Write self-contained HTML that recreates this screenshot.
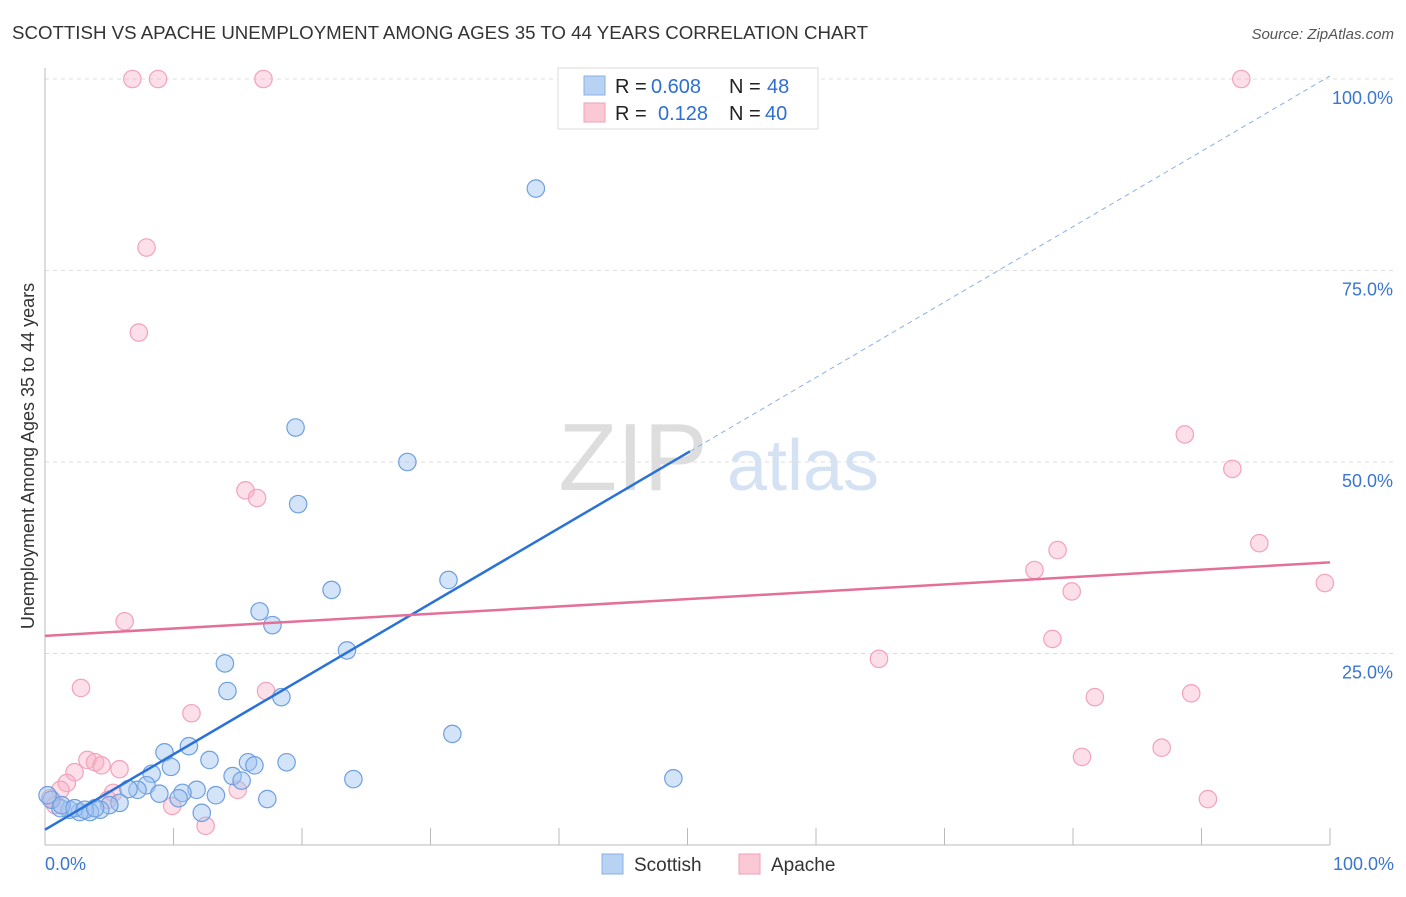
<!DOCTYPE html>
<html><head><meta charset="utf-8"><style>
body{margin:0;background:#fff;font-family:"Liberation Sans",sans-serif;}
svg text{font-family:"Liberation Sans",sans-serif;}
</style></head><body>
<svg id="chart" width="1406" height="892" xmlns="http://www.w3.org/2000/svg">
<text x="12" y="39" font-size="18" fill="#333" textLength="856" lengthAdjust="spacingAndGlyphs">SCOTTISH VS APACHE UNEMPLOYMENT AMONG AGES 35 TO 44 YEARS CORRELATION CHART</text>
<text x="1394" y="39" font-size="15" fill="#555" text-anchor="end" font-style="italic">Source: ZipAtlas.com</text>
<text transform="translate(34,456) rotate(-90)" font-size="18" fill="#333" text-anchor="middle">Unemployment Among Ages 35 to 44 years</text>
<g>
<text x="633" y="490" font-size="96" fill="#ddd" text-anchor="middle" font-family="Liberation Serif,serif">ZIP</text>
<text x="803" y="490" font-size="72" fill="#d4e2f4" text-anchor="middle">atlas</text>
</g>
<g id="grid"></g>
<g id="axes"></g>
<g id="pts"></g>
<g id="lines"></g>
<g>
<rect x="558" y="68" width="260" height="61" fill="#fff" stroke="#ddd"/>
<rect x="584" y="76" width="21" height="19" fill="#b8d2f4" stroke="#8ab0e6"/>
<text x="615" y="93" font-size="20" fill="#222">R = </text><text x="651" y="93" font-size="20" fill="#2f6fd0">0.608</text>
<text x="729" y="93" font-size="20" fill="#222">N = </text><text x="767" y="93" font-size="20" fill="#2f6fd0">48</text>
<rect x="584" y="103" width="21" height="19" fill="#fbc8d6" stroke="#f0a0b8"/>
<text x="615" y="120" font-size="20" fill="#222">R = </text><text x="658" y="120" font-size="20" fill="#2f6fd0">0.128</text>
<text x="729" y="120" font-size="20" fill="#222">N = </text><text x="765" y="120" font-size="20" fill="#2f6fd0">40</text>
</g>
<g>
<rect x="602" y="854" width="21" height="20" fill="#b8d2f4" stroke="#8ab0e6"/>
<text x="634" y="871" font-size="19" fill="#333">Scottish</text>
<rect x="739" y="854" width="21" height="20" fill="#fbc8d6" stroke="#f0a0b8"/>
<text x="771" y="871" font-size="19" fill="#333">Apache</text>
</g>
</svg>
<script>
const scotX=[38.2,19.5,28.2,19.7,31.4,22.3,16.7,17.7,23.5,14.0,14.2,18.4,31.7,9.3,11.2,12.8,9.8,15.8,16.3,18.8,8.3,14.6,15.3,24.0,48.9,7.9,7.2,6.5,8.9,11.8,10.7,13.3,10.4,17.3,5.8,12.2,5.0,4.3,3.5,2.7,1.9,1.2,0.5,1.3,2.3,3.1,3.9,0.2];
const scotY=[85.7,54.5,50.0,44.5,34.6,33.3,30.5,28.7,25.4,23.7,20.1,19.3,14.5,12.1,12.9,11.1,10.2,10.8,10.4,10.8,9.3,9.0,8.4,8.6,8.7,7.8,7.2,7.3,6.7,7.2,6.8,6.5,6.1,6.0,5.5,4.2,5.2,4.6,4.3,4.3,4.6,4.8,5.9,5.2,4.8,4.6,4.8,6.5];
const apX=[6.8,8.8,17.0,93.1,7.9,7.3,15.6,16.5,6.2,2.8,11.4,17.2,3.3,3.9,4.4,5.8,2.3,1.7,1.2,5.3,15.0,9.9,12.5,4.9,88.7,92.4,94.5,99.6,77.0,78.8,79.9,78.4,64.9,81.7,89.2,80.7,86.9,90.5,0.4,0.8];
const apY=[100,100,100,100,78.0,66.9,46.3,45.3,29.2,20.5,17.2,20.1,11.1,10.8,10.4,9.9,9.5,8.1,7.2,6.8,7.2,5.1,2.5,5.9,53.6,49.1,39.4,34.2,35.9,38.5,33.1,26.9,24.3,19.3,19.8,11.5,12.7,6.0,6.1,5.2];
const yTicks=[25,50,75,100];
const yTickLabels=["25.0%","50.0%","75.0%","100.0%"];
const xTickLabels=["0.0%","100.0%"];
const scotTrend=[2.0,0.984];
const apTrend=[27.3,0.096];
const NS="http://www.w3.org/2000/svg";
const X=v=>45+v*12.85, Y=v=>845-v*7.66;
function mk(tag,attrs,parent){const e=document.createElementNS(NS,tag);for(const k in attrs)e.setAttribute(k,attrs[k]);document.getElementById(parent).appendChild(e);return e;}
yTicks.forEach((t,i)=>{
 const g=mk('line',{x1:45,x2:1395,y1:Y(t),y2:Y(t),stroke:'#ddd','stroke-dasharray':'4,4'},'grid');
 
 
 const l=mk('text',{x:1393,y:Y(t)+25,'font-size':18,fill:'#3a75d0','text-anchor':'end'},'grid');
 l.textContent=yTickLabels[i];
 
 
});
const ax=mk('line',{x1:45,x2:1330,y1:845,y2:845,stroke:'#bbb'},'axes');


const ay=mk('line',{x1:45,x2:45,y1:68,y2:845,stroke:'#bbb'},'axes');


for(let i=1;i<=10;i++){const t=mk('line',{x1:X(i*10),x2:X(i*10),y1:828,y2:845,stroke:'#bbb'},'axes');
 
 }
[[0,'start',45],[100,'end',1394]].forEach((d,i)=>{const t=mk('text',{x:d[2],y:870,'font-size':18,fill:'#3a75d0','text-anchor':d[1]},'axes');t.textContent=xTickLabels[i];
 
 });
apX.forEach((x,i)=>{const c=mk('circle',{cx:X(x),cy:Y(apY[i]),r:8.7,fill:'rgba(247,175,198,0.4)',stroke:'#f2a3bb','stroke-width':1.2},'pts');
 
 });
scotX.forEach((x,i)=>{const c=mk('circle',{cx:X(x),cy:Y(scotY[i]),r:8.7,fill:'rgba(160,195,240,0.45)',stroke:'#6f9fdf','stroke-width':1.2},'pts');
 
 });
const xe=50.2;
const s1=mk('line',{x1:X(0),y1:Y(scotTrend[0]),x2:X(xe),y2:Y(scotTrend[0]+scotTrend[1]*xe),stroke:'#2a72d8','stroke-width':2.5},'lines');


const s2=mk('line',{x1:X(xe),y1:Y(scotTrend[0]+scotTrend[1]*xe),x2:X(100),y2:Y(scotTrend[0]+scotTrend[1]*100),stroke:'#8ab0e6','stroke-width':1,'stroke-dasharray':'5,4'},'lines');


const a1=mk('line',{x1:X(0),y1:Y(apTrend[0]),x2:X(100),y2:Y(apTrend[0]+apTrend[1]*100),stroke:'#e4709a','stroke-width':2.5},'lines');


</script>
</body></html>
